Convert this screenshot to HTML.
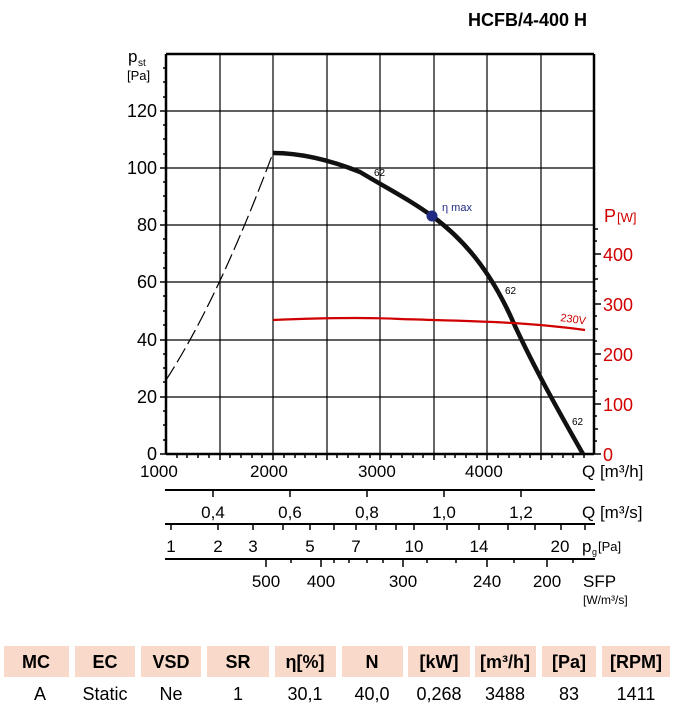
<!DOCTYPE html>
<html><head><meta charset="utf-8"><style>
body{margin:0;background:#fff;}
svg{display:block;font-family:"Liberation Sans",sans-serif;}
</style></head><body>
<svg width="677" height="713" viewBox="0 0 677 713" xmlns="http://www.w3.org/2000/svg">
<text x="587" y="26" font-size="18" font-weight="bold" text-anchor="end">HCFB/4-400 H</text>
<!-- grid -->
<g stroke="#000" stroke-width="1.2">
<line x1="220" y1="54" x2="220" y2="454"/><line x1="273" y1="54" x2="273" y2="454"/>
<line x1="327" y1="54" x2="327" y2="454"/><line x1="380" y1="54" x2="380" y2="454"/>
<line x1="434" y1="54" x2="434" y2="454"/><line x1="487" y1="54" x2="487" y2="454"/>
<line x1="541" y1="54" x2="541" y2="454"/>
<line x1="166" y1="111" x2="594" y2="111"/><line x1="166" y1="168" x2="594" y2="168"/>
<line x1="166" y1="225" x2="594" y2="225"/><line x1="166" y1="282" x2="594" y2="282"/>
<line x1="166" y1="340" x2="594" y2="340"/><line x1="166" y1="397" x2="594" y2="397"/>
</g>
<line x1="166" y1="54" x2="594" y2="54" stroke="#000" stroke-width="2.5"/>
<line x1="166" y1="54" x2="166" y2="454" stroke="#000" stroke-width="2.5"/>
<line x1="166" y1="454" x2="594" y2="454" stroke="#000" stroke-width="2.5"/>
<line x1="594" y1="54" x2="594" y2="454" stroke="#000" stroke-width="2.5"/>
<g stroke="#000" stroke-width="1.5">
<line x1="160" y1="111" x2="166" y2="111"/><line x1="160" y1="168" x2="166" y2="168"/>
<line x1="160" y1="225" x2="166" y2="225"/><line x1="160" y1="282" x2="166" y2="282"/>
<line x1="160" y1="340" x2="166" y2="340"/><line x1="160" y1="397" x2="166" y2="397"/>
<line x1="160" y1="454" x2="166" y2="454"/>
<path d="M163 68H166M163 82H166M163 97H166M163 125H166M163 139H166M163 154H166M163 182H166M163 196H166M163 211H166M163 239H166M163 253H166M163 268H166M163 296H166M163 311H166M163 325H166M163 354H166M163 368H166M163 382H166M163 411H166M163 425H166M163 440H166"/>
<path d="M594 254H601M594 304H601M594 354H601M594 404H601M594 454H601"/>
<path d="M594 229H598M594 279H598M594 329H598M594 379H598M594 429H598M594 241H597M594 266H597M594 291H597M594 316H597M594 341H597M594 366H597M594 391H597M594 416H597M594 441H597"/>
<path d="M177 454V458M187 454V458M198 454V458M209 454V458M230 454V458M241 454V458M252 454V458M262 454V458M284 454V458M295 454V458M305 454V458M316 454V458M337 454V458M348 454V458M359 454V458M370 454V458M391 454V458M402 454V458M413 454V458M423 454V458M445 454V458M455 454V458M466 454V458M477 454V458M498 454V458M509 454V458M520 454V458M530 454V458M552 454V458M563 454V458M573 454V458M584 454V458"/>
<path d="M220 454V460M273 454V460M327 454V460M380 454V460M434 454V460M487 454V460M541 454V460"/>
</g>
<g font-size="18" text-anchor="end">
<text x="157" y="117">120</text><text x="157" y="174">100</text><text x="157" y="231">80</text>
<text x="157" y="288">60</text><text x="157" y="346">40</text><text x="157" y="403">20</text><text x="157" y="460">0</text>
</g>
<text x="128" y="62" font-size="17">p</text><text x="138" y="66" font-size="10">st</text>
<text x="127" y="80" font-size="13">[Pa]</text>
<g font-size="18" fill="#d00000">
<text x="604" y="222">P</text><text x="617" y="222" font-size="13">[W]</text>
<text x="603" y="261">400</text><text x="603" y="311">300</text><text x="603" y="361">200</text>
<text x="603" y="411">100</text><text x="603" y="461">0</text>
</g>
<!-- curves -->
<path d="M166 380 Q218 300 273 153" stroke="#000" stroke-width="1.2" fill="none" stroke-dasharray="16,5"/>
<path d="M273 153 C300 153 330 160 360 172 C390 190 410 200 432 216 C465 240 490 272 510 315 C530 360 555 405 583 454" stroke="#111" stroke-width="4.5" fill="none"/>
<path d="M273 320 C320 318 360 317 400 319 C460 321 520 321 585 330" stroke="#d00000" stroke-width="2.2" fill="none"/>
<circle cx="432" cy="216" r="5.5" fill="#1f2a80"/>
<text x="442" y="211" font-size="11" fill="#1f2a80">η max</text>
<text x="374" y="176" font-size="10">62</text>
<text x="505" y="294" font-size="10">62</text>
<text x="572" y="425" font-size="10">62</text>
<text x="560" y="321" font-size="11" fill="#d00000" transform="rotate(8 560 321)">230V</text>
<!-- bottom axes -->
<g font-size="17">
<text x="140" y="477">1000</text><text x="250" y="477">2000</text><text x="358" y="477">3000</text><text x="465" y="477">4000</text>
<text x="582" y="477">Q [m³/h]</text>
</g>
<g stroke="#000" stroke-width="2">
<line x1="165" y1="490" x2="595" y2="490"/><line x1="165" y1="524" x2="595" y2="524"/><line x1="165" y1="559" x2="595" y2="559"/>
</g>
<g stroke="#000" stroke-width="1.5">
<path d="M213 490V497M290 490V497M367 490V497M444 490V497M521 490V497"/>
<path d="M171 524V530M218 524V530M253 524V530M283 524V530M310 524V530M334 524V530M356 524V530M376 524V530M396 524V530M414 524V530M447 524V530M479 524V530M508 524V530M535 524V530M561 524V530M585 524V530"/>
<path d="M266 559V567M321 559V567M403 559V567M487 559V567M547 559V567M291 559V563M334 559V563M349 559V563M367 559V563M383 559V563M427 559V563M456 559V563M514 559V563M573 559V563"/>
</g>
<g font-size="17" text-anchor="middle">
<text x="213" y="518">0,4</text><text x="290" y="518">0,6</text><text x="367" y="518">0,8</text><text x="444" y="518">1,0</text><text x="521" y="518">1,2</text>
<text x="171" y="552">1</text><text x="218" y="552">2</text><text x="253" y="552">3</text><text x="310" y="552">5</text><text x="356" y="552">7</text><text x="414" y="552">10</text><text x="479" y="552">14</text><text x="560" y="552">20</text>
<text x="266" y="587">500</text><text x="321" y="587">400</text><text x="403" y="587">300</text><text x="487" y="587">240</text><text x="547" y="587">200</text>
</g>
<text x="582" y="518" font-size="17">Q [m³/s]</text>
<text x="582" y="552" font-size="17">p</text><text x="592" y="555" font-size="9">g</text><text x="598" y="551" font-size="13">[Pa]</text>
<text x="583" y="587" font-size="17">SFP</text>
<text x="583" y="604" font-size="12">[W/m³/s]</text>
<!-- table -->
<g fill="#f9d9c9">
<rect x="4" y="646" width="65" height="31"/><rect x="75" y="646" width="60" height="31"/>
<rect x="141" y="646" width="60" height="31"/><rect x="207" y="646" width="62" height="31"/>
<rect x="275" y="646" width="61" height="31"/><rect x="342" y="646" width="61" height="31"/>
<rect x="408" y="646" width="62" height="31"/><rect x="475" y="646" width="61" height="31"/>
<rect x="542" y="646" width="54" height="31"/><rect x="602" y="646" width="68" height="31"/>
</g>
<g font-size="18" font-weight="bold" text-anchor="middle">
<text x="36" y="668">MC</text><text x="105" y="668">EC</text><text x="171" y="668">VSD</text><text x="238" y="668">SR</text>
<text x="305" y="668">η[%]</text><text x="372" y="668">N</text><text x="439" y="668">[kW]</text><text x="505" y="668">[m³/h]</text>
<text x="569" y="668">[Pa]</text><text x="636" y="668">[RPM]</text>
</g>
<g font-size="18" text-anchor="middle">
<text x="40" y="700">A</text><text x="105" y="700">Static</text><text x="171" y="700">Ne</text><text x="238" y="700">1</text>
<text x="305" y="700">30,1</text><text x="372" y="700">40,0</text><text x="439" y="700">0,268</text><text x="505" y="700">3488</text>
<text x="569" y="700">83</text><text x="636" y="700">1411</text>
</g>
</svg>
</body></html>
